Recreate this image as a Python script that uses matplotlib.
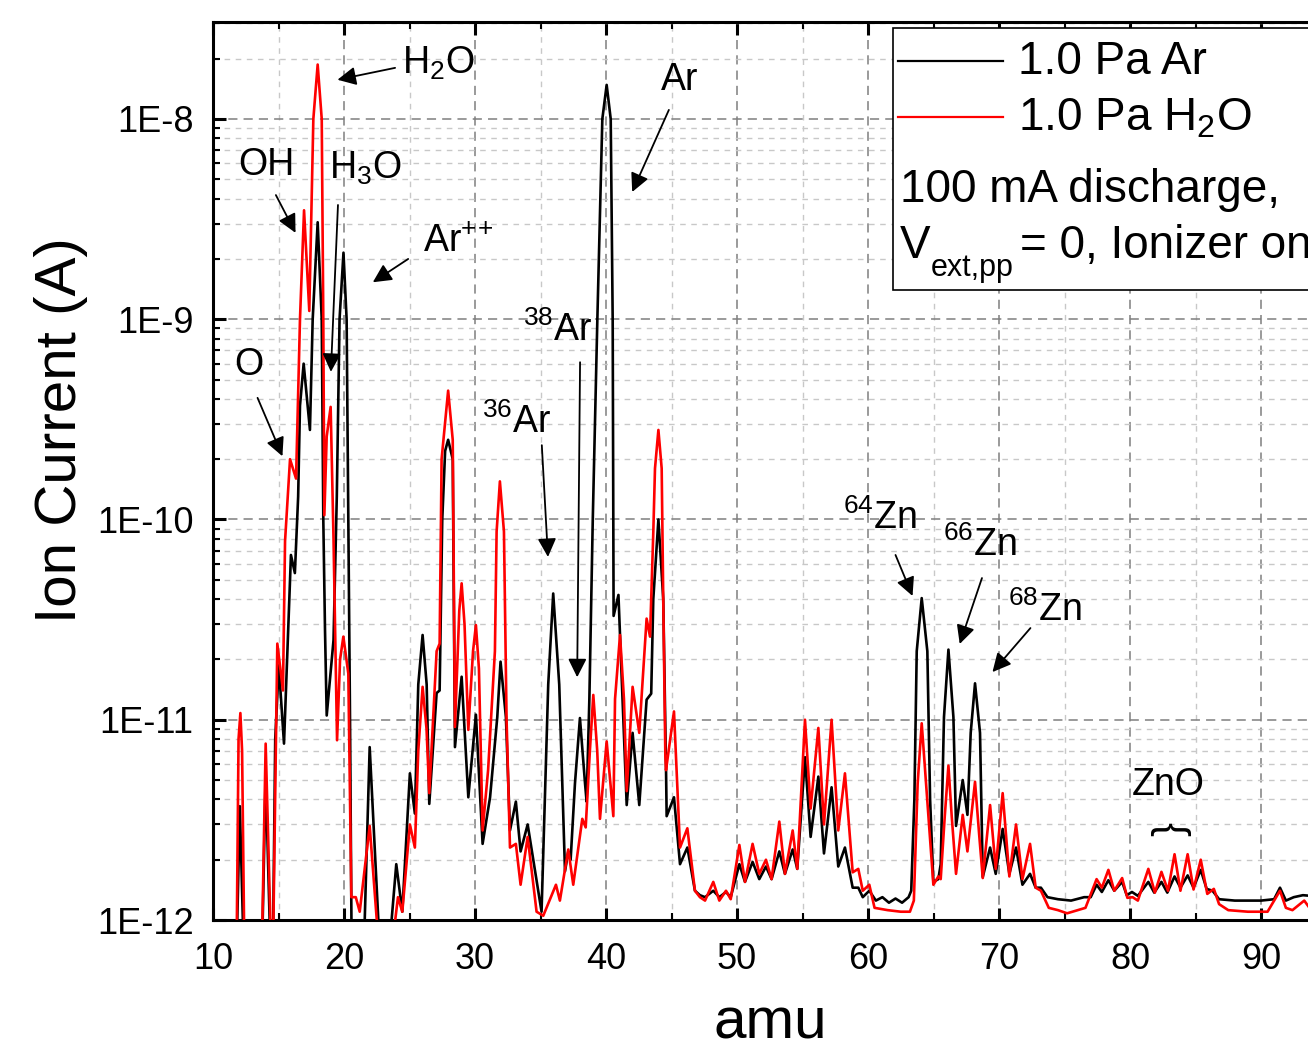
import numpy as np
import matplotlib
matplotlib.use("Agg")
import matplotlib.pyplot as plt
from matplotlib.ticker import LogLocator, MultipleLocator, FuncFormatter, NullFormatter
from matplotlib.lines import Line2D
from matplotlib.patches import Rectangle

# Mass spectrum: (amu, ion current in A) at peaks, flanks and valleys.
# Values below 1E-12 are dips that run off the bottom of the axis.
ar_points = [  # 1.0 Pa Ar (black)
    (11.75, 5e-13), (12.05, 3.7e-12), (12.4, 5e-13), (13.7, 5e-13), (14.02, 5.3e-12),
    (14.45, 5e-13), (14.55, 5e-13), (14.75, 8e-12), (15.02, 1.87e-11), (15.42, 7.6e-12),
    (15.95, 6.65e-11), (16.25, 5.4e-11), (16.5, 1.3e-10), (16.64, 3.7e-10), (16.92, 6.0e-10),
    (17.4, 2.8e-10), (17.61, 1e-9), (17.99, 3.05e-9), (18.3, 1e-9), (18.42, 1e-10),
    (18.55, 2.8e-11), (18.68, 1.05e-11), (19.2, 2.5e-11), (19.45, 1.3e-10), (19.66, 1e-9),
    (19.96, 2.15e-9), (20.2, 1e-9), (20.33, 1e-10), (20.46, 1e-11), (20.6, 5e-13),
    (21.45, 5e-13), (21.96, 7.3e-12), (22.85, 5e-13), (23.25, 5e-13), (23.99, 1.9e-12),
    (24.45, 1.1e-12), (25.03, 5.4e-12), (25.41, 3.4e-12), (25.67, 1.5e-11), (26.0, 2.65e-11),
    (26.31, 1.5e-11), (26.51, 3.8e-12), (27.07, 1.36e-11), (27.3, 1.4e-11), (27.5, 1.0e-10),
    (27.72, 2.2e-10), (27.95, 2.5e-10), (28.3, 2.0e-10), (28.47, 7.3e-12), (28.98, 1.64e-11),
    (29.49, 4.1e-12), (30.07, 1.06e-11), (30.58, 2.4e-12), (31.15, 4.1e-12), (31.7, 1.03e-11),
    (31.95, 1.95e-11), (32.36, 1.03e-11), (32.67, 2.8e-12), (33.12, 3.9e-12), (33.48, 2.2e-12),
    (34.02, 3.0e-12), (35.08, 1.1e-12), (35.59, 1.5e-11), (35.97, 4.27e-11), (36.43, 1.5e-11),
    (36.87, 1.75e-12), (37.12, 2.2e-12), (37.3, 2.0e-12), (37.63, 4.8e-12), (38.01, 1.02e-11),
    (38.4, 4.8e-12), (38.52, 3.9e-12), (38.73, 1.27e-11), (38.99, 1e-10), (39.34, 1e-9),
    (39.72, 1e-8), (40.05, 1.48e-8), (40.36, 1e-8), (40.51, 1e-9), (40.58, 3.3e-11),
    (40.95, 4.2e-11), (41.58, 3.75e-12), (42.03, 8.6e-12), (42.54, 3.75e-12), (43.1, 1.26e-11),
    (43.45, 1.35e-11), (43.61, 4e-11), (44.0, 1.0e-10), (44.37, 4e-11), (44.58, 5.8e-12),
    (44.63, 3.3e-12), (45.19, 4.1e-12), (45.65, 1.9e-12), (46.21, 2.3e-12), (46.79, 1.4e-12),
    (47.17, 1.33e-12), (47.56, 1.3e-12), (48.19, 1.4e-12), (48.65, 1.3e-12), (49.16, 1.38e-12),
    (49.52, 1.3e-12), (50.18, 1.9e-12), (50.61, 1.55e-12), (51.19, 1.95e-12), (51.7, 1.6e-12),
    (52.21, 1.85e-12), (52.64, 1.6e-12), (53.23, 2.2e-12), (53.66, 1.7e-12), (54.25, 2.25e-12),
    (54.6, 1.8e-12), (55.19, 6.5e-12), (55.62, 2.6e-12), (56.21, 5.2e-12), (56.64, 2.15e-12),
    (57.22, 4.6e-12), (57.73, 1.85e-12), (58.24, 2.3e-12), (58.83, 1.45e-12), (59.26, 1.45e-12),
    (59.6, 1.3e-12), (60.1, 1.4e-12), (60.6, 1.25e-12), (61.1, 1.3e-12), (61.6, 1.22e-12),
    (62.1, 1.28e-12), (62.6, 1.22e-12), (63.1, 1.3e-12), (63.3, 1.4e-12), (63.54, 4e-12),
    (63.72, 2.2e-11), (64.1, 4.05e-11), (64.53, 2.2e-11), (64.74, 4e-12), (64.99, 1.55e-12),
    (65.37, 1.6e-12), (65.55, 1.9e-12), (65.8, 1.03e-11), (66.14, 2.24e-11), (66.52, 1.03e-11),
    (66.72, 2.95e-12), (67.23, 5.0e-12), (67.59, 3.35e-12), (67.84, 8.6e-12), (68.17, 1.52e-11),
    (68.55, 8.6e-12), (68.76, 1.64e-12), (69.32, 2.3e-12), (69.75, 1.7e-12), (70.28, 2.85e-12),
    (70.79, 1.7e-12), (71.3, 2.3e-12), (71.79, 1.5e-12), (72.37, 1.7e-12), (72.8, 1.45e-12),
    (73.2, 1.45e-12), (73.7, 1.3e-12), (74.5, 1.27e-12), (75.5, 1.25e-12), (76.5, 1.3e-12),
    (77.0, 1.3e-12), (77.45, 1.5e-12), (77.85, 1.38e-12), (78.35, 1.58e-12), (78.8, 1.4e-12),
    (79.4, 1.55e-12), (79.75, 1.33e-12), (80.15, 1.38e-12), (80.6, 1.32e-12), (81.4, 1.55e-12),
    (81.85, 1.37e-12), (82.4, 1.55e-12), (82.85, 1.37e-12), (83.4, 1.65e-12), (83.85, 1.45e-12),
    (84.4, 1.67e-12), (84.85, 1.45e-12), (85.4, 1.78e-12), (85.85, 1.43e-12), (86.3, 1.4e-12),
    (86.8, 1.27e-12), (88.0, 1.25e-12), (90.0, 1.25e-12), (91.0, 1.27e-12), (91.45, 1.45e-12),
    (91.9, 1.25e-12), (92.5, 1.3e-12), (93.2, 1.33e-12), (95.0, 1.3e-12),
]

h2o_points = [  # 1.0 Pa H2O (red)
    (11.78, 5e-13), (11.95, 8e-12), (12.09, 1.08e-11), (12.22, 7e-12), (12.42, 5e-13),
    (13.69, 5e-13), (14.02, 7.6e-12), (14.5, 5e-13), (14.55, 5e-13), (14.91, 2.4e-11),
    (15.34, 1.4e-11), (15.5, 7.8e-11), (15.88, 2.0e-10), (16.34, 1.6e-10), (16.64, 1e-9),
    (16.95, 3.5e-9), (17.35, 1.1e-9), (17.66, 1e-8), (17.99, 1.87e-8), (18.3, 1e-8),
    (18.42, 1e-9), (18.5, 1.05e-10), (18.68, 2.6e-10), (18.98, 3.65e-10), (19.2, 8e-11),
    (19.47, 7.9e-12), (19.7, 2e-11), (19.95, 2.6e-11), (20.33, 1.7e-11), (20.56, 1.3e-12),
    (20.9, 1.3e-12), (21.2, 1.1e-12), (21.96, 2.95e-12), (22.85, 5e-13), (23.5, 6e-13),
    (24.12, 1.3e-12), (24.45, 1.1e-12), (25.03, 3.0e-12), (25.41, 2.3e-12), (25.67, 7e-12),
    (26.0, 1.46e-11), (26.3, 9e-12), (26.51, 4.3e-12), (27.07, 2.2e-11), (27.3, 2.4e-11),
    (27.45, 2e-10), (27.95, 4.4e-10), (28.3, 2.5e-10), (28.47, 9.2e-12), (28.8, 3.5e-11),
    (28.98, 4.8e-11), (29.2, 3e-11), (29.49, 8.9e-12), (29.85, 2.2e-11), (30.07, 2.97e-11),
    (30.3, 1.8e-11), (30.58, 2.8e-12), (31.0, 5.6e-12), (31.52, 2.2e-11), (31.65, 8.7e-11),
    (31.9, 1.55e-10), (32.21, 8.7e-11), (32.41, 1.0e-11), (32.67, 2.3e-12), (33.12, 2.4e-12),
    (33.48, 1.5e-12), (34.02, 2.6e-12), (34.7, 1.1e-12), (35.21, 1.05e-12), (36.18, 1.5e-12),
    (36.48, 1.25e-12), (37.12, 2.25e-12), (37.5, 1.5e-12), (38.19, 3.2e-12), (38.45, 2.9e-12),
    (38.77, 7e-12), (39.03, 1.33e-11), (39.33, 7e-12), (39.54, 3.2e-12), (40.05, 7.8e-12),
    (40.56, 3.3e-12), (40.69, 1.27e-11), (41.07, 2.65e-11), (41.37, 1.27e-11), (41.58, 4.4e-12),
    (42.03, 1.46e-11), (42.54, 8.6e-12), (43.1, 3.2e-11), (43.36, 2.6e-11), (43.61, 8.6e-11),
    (43.74, 1.8e-10), (44.0, 2.8e-10), (44.25, 1.8e-10), (44.37, 4e-11), (44.53, 6.6e-12),
    (44.58, 5.6e-12), (45.19, 1.1e-11), (45.65, 2.3e-12), (46.21, 2.87e-12), (46.79, 1.4e-12),
    (47.17, 1.3e-12), (47.56, 1.25e-12), (48.19, 1.55e-12), (48.65, 1.25e-12), (49.16, 1.4e-12),
    (49.52, 1.27e-12), (50.18, 2.37e-12), (50.61, 1.55e-12), (51.19, 2.4e-12), (51.7, 1.7e-12),
    (52.21, 2.0e-12), (52.64, 1.6e-12), (53.23, 3.1e-12), (53.66, 1.7e-12), (54.25, 2.8e-12),
    (54.6, 1.8e-12), (55.19, 1.0e-11), (55.62, 3.6e-12), (56.21, 9.1e-12), (56.64, 3.0e-12),
    (57.22, 1.0e-11), (57.73, 2.8e-12), (58.24, 5.4e-12), (58.83, 1.73e-12), (59.26, 1.8e-12),
    (59.6, 1.4e-12), (60.1, 1.5e-12), (60.5, 1.15e-12), (61.5, 1.12e-12), (62.5, 1.1e-12),
    (63.2, 1.1e-12), (63.5, 1.25e-12), (63.79, 4.8e-12), (64.1, 9.6e-12), (64.43, 4.8e-12),
    (64.99, 1.5e-12), (65.37, 1.65e-12), (65.55, 1.6e-12), (65.86, 3.3e-12), (66.14, 5.9e-12),
    (66.39, 3.3e-12), (66.72, 1.7e-12), (67.23, 3.35e-12), (67.59, 2.2e-12), (68.17, 4.9e-12),
    (68.48, 2.7e-12), (68.76, 1.62e-12), (69.32, 3.75e-12), (69.75, 1.8e-12), (70.28, 4.3e-12),
    (70.79, 1.65e-12), (71.3, 3.0e-12), (71.79, 1.6e-12), (72.37, 2.4e-12), (72.8, 1.45e-12),
    (73.2, 1.4e-12), (73.8, 1.15e-12), (74.5, 1.12e-12), (75.2, 1.08e-12), (76.0, 1.12e-12),
    (76.6, 1.15e-12), (77.45, 1.6e-12), (77.85, 1.45e-12), (78.35, 1.78e-12), (78.8, 1.4e-12),
    (79.4, 1.62e-12), (79.8, 1.29e-12), (80.2, 1.3e-12), (80.6, 1.25e-12), (81.4, 1.8e-12),
    (81.9, 1.37e-12), (82.4, 1.74e-12), (82.9, 1.4e-12), (83.4, 2.13e-12), (83.85, 1.4e-12),
    (84.4, 2.13e-12), (84.85, 1.42e-12), (85.4, 2.0e-12), (85.9, 1.35e-12), (86.4, 1.43e-12),
    (86.8, 1.2e-12), (87.5, 1.12e-12), (89.0, 1.1e-12), (90.5, 1.1e-12), (91.45, 1.4e-12),
    (91.9, 1.15e-12), (92.4, 1.12e-12), (93.3, 1.25e-12), (93.7, 1.15e-12), (95.0, 1.15e-12),
]

# Peak labels: (text, text position, arrow tail, arrow head)
labels = [
    ("H$_2$O", (24.4, 1.9e-8), (23.9, 1.80e-8), (19.5, 1.57e-8)),
    ("OH", (14.1, 5.9e-9), (14.8, 4.17e-9), (16.3, 2.70e-9)),
    ("H$_3$O", (21.6, 5.7e-9), (19.54, 3.72e-9), (19.0, 5.46e-10)),
    ("Ar$^{+}$$^{+}$", (26.0, 2.43e-9), (24.9, 2.0e-9), (22.2, 1.53e-9)),
    ("O", (12.7, 5.9e-10), (13.4, 4.05e-10), (15.3, 2.07e-10)),
    ("Ar", (45.65, 1.57e-8), (44.8, 1.11e-8), (42.0, 4.32e-9)),
    ("$^{38}$Ar", (36.3, 8.8e-10), (38.02, 6.1e-10), (37.8, 1.63e-11)),
    ("$^{36}$Ar", (33.2, 3.07e-10), (35.1, 2.35e-10), (35.57, 6.5e-11)),
    ("$^{64}$Zn", (60.9, 1.02e-10), (62.1, 6.65e-11), (63.4, 4.15e-11)),
    ("$^{66}$Zn", (68.55, 7.46e-11), (68.7, 5.1e-11), (67.0, 2.39e-11)),
    ("$^{68}$Zn", (73.5, 3.53e-11), (72.4, 2.87e-11), (69.5, 1.73e-11)),
]
left_aligned = {"H$_2$O", "Ar$^{+}$$^{+}$"}

W, H = 1308, 1054
plt.rcParams["font.family"] = ["Liberation Sans", "DejaVu Sans"]
plt.rcParams["mathtext.default"] = "regular"

fig = plt.figure(figsize=(W / 100, H / 100), dpi=100)


def fpx(x, y):
    # pixel position (from top-left) -> figure fraction
    return x / W, 1 - y / H


ax = fig.add_axes([213 / W, 1 - 920 / H, 1113.5 / W, 898 / H])
ar_amu, ar_current = zip(*ar_points)
h2o_amu, h2o_current = zip(*h2o_points)
ax.plot(ar_amu, ar_current, color="black", lw=1.9, solid_joinstyle="round", zorder=3)
ax.plot(h2o_amu, h2o_current, color="#ff0000", lw=1.9, solid_joinstyle="round", zorder=4)

ax.set_yscale("log")
ax.set_xlim(10, 95)
ax.set_ylim(1e-12, 3.05e-8)

ax.xaxis.set_major_locator(MultipleLocator(10))
ax.xaxis.set_minor_locator(MultipleLocator(5))
ax.yaxis.set_major_locator(LogLocator(base=10, numticks=10))
ax.yaxis.set_minor_locator(LogLocator(base=10, subs=np.arange(2, 10), numticks=10))
ax.yaxis.set_major_formatter(FuncFormatter(lambda v, _: f"1E{int(round(np.log10(v)))}"))
ax.yaxis.set_minor_formatter(NullFormatter())

ax.grid(which="major", color="#7f7f7f", ls=(0, (6, 4)), lw=1.1, zorder=0)
ax.grid(which="minor", color="#c8c8c8", ls=(0, (4, 4)), lw=1.0, zorder=0)
ax.set_axisbelow(True)

for side in ["left", "bottom", "top", "right"]:
    ax.spines[side].set_linewidth(2.2)
ax.tick_params(which="major", direction="in", length=9, width=2.2, top=True, right=False,
               labelsize=26)
ax.tick_params(which="minor", direction="in", length=5, width=1.5, top=True, right=False)
ax.tick_params(axis="x", pad=16)
ax.tick_params(axis="y", pad=14)

ax.set_xlabel("amu", fontsize=42)
ax.xaxis.set_label_coords(0.5, -0.085)
ax.set_ylabel("Ion Current (A)", fontsize=42)
ax.yaxis.set_label_coords(-0.112, 0.545)

arrow = dict(arrowstyle="-|>", color="black", lw=1.3, mutation_scale=28,
             shrinkA=0, shrinkB=0)
for text, tpos, tail, head in labels:
    ax.text(*tpos, text, fontsize=27, ha="left" if text in left_aligned else "center",
            va="center", zorder=6)
    ax.annotate("", xy=head, xytext=tail, arrowprops=arrow, zorder=6)

ax.text(82.9, 4.72e-12, "ZnO", fontsize=27, ha="center", va="center", zorder=6)
ax.text(82.98, 2.85e-12, "{", fontsize=30, rotation=-90, ha="center", va="center", zorder=6)

# legend box with the two series and the run conditions
fig.add_artist(Rectangle(fpx(893, 290), 440 / W, 262 / H, transform=fig.transFigure,
                         fill=True, facecolor="white", edgecolor="black", lw=1.2, zorder=5))
for yy, col, lab in [(61, "black", "1.0 Pa Ar"), (117, "#ff0000", "1.0 Pa H$_2$O")]:
    x0, y0 = fpx(898, yy)
    x1, _ = fpx(1003, yy)
    fig.add_artist(Line2D([x0, x1], [y0, y0], color=col, lw=1.6, transform=fig.transFigure, zorder=6))
    fig.text(*fpx(1018, yy + 1), lab, fontsize=33, ha="left", va="center", zorder=6)
fig.text(*fpx(900, 190), "100 mA discharge,", fontsize=33, ha="left", va="center", zorder=6)
fig.text(*fpx(900, 246), "V", fontsize=33, ha="left", va="center", zorder=6)
fig.text(*fpx(931, 268), "ext,pp", fontsize=22, ha="left", va="center", zorder=6)
fig.text(*fpx(1020, 246), "= 0, Ionizer on", fontsize=33, ha="left", va="center", zorder=6)

fig.savefig("out.png", dpi=100)
